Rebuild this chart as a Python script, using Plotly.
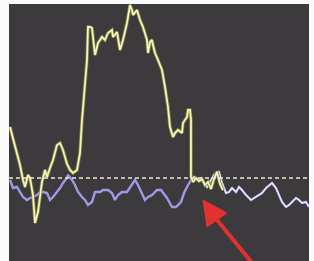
import plotly.graph_objects as go

# Signal A (yellow) - sample position and level
yellow_t = [1, 4, 8, 11, 14, 16, 19, 21, 24, 26, 29, 33, 36, 38, 41, 44, 48, 51, 54, 58, 61,
            64, 68, 71, 73, 76, 78, 79, 81, 83, 86, 89, 93, 96, 99, 103, 104, 108, 111, 114,
            118, 121, 123, 124, 128, 131, 134, 138, 139, 141, 143, 144, 146, 149, 153, 156,
            159, 161, 163, 164, 166, 169, 173, 174, 178, 179, 181, 182, 182, 184, 187, 190,
            193, 196, 199, 202, 205, 208, 211, 214]
yellow_v = [134, 123, 106, 96, 81, 74, 86, 83, 66, 38, 49, 79, 91, 84, 93, 101, 116, 118, 111,
            97, 91, 88, 91, 108, 141, 181, 201, 234, 234, 233, 206, 218, 224, 221, 228, 231,
            224, 229, 211, 221, 238, 256, 251, 246, 251, 241, 234, 221, 208, 219, 221, 216,
            208, 201, 191, 174, 154, 134, 128, 124, 128, 131, 128, 138, 144, 151, 151, 141,
            84, 79, 83, 80, 82, 76, 79, 72, 82, 89, 77, 71]

# Signal B (lavender)
blue_t = [1, 4, 8, 11, 14, 18, 21, 24, 28, 31, 34, 38, 41, 44, 48, 51, 54, 58, 59, 63, 66,
          69, 73, 76, 79, 83, 86, 91, 94, 99, 103, 106, 109, 113, 118, 121, 126, 129, 133,
          136, 139, 143, 145, 148, 152, 158, 163, 167, 172, 175, 178, 182, 185, 188, 192,
          195, 198, 202, 205, 208, 210, 213, 217, 220, 223, 227, 230, 233, 237, 242, 245,
          250, 253, 257, 260, 263, 267, 270, 273, 277, 280, 283, 287, 290, 293, 297, 300]
blue_v = [81, 73, 74, 69, 64, 61, 63, 64, 66, 69, 69, 68, 61, 64, 69, 73, 78, 83, 86, 81,
          76, 69, 64, 61, 56, 59, 69, 69, 71, 71, 68, 61, 66, 69, 69, 74, 81, 76, 68, 61,
          64, 66, 68, 71, 71, 63, 54, 54, 59, 68, 74, 81, 84, 81, 83, 78, 74, 81, 86, 89,
          89, 78, 68, 69, 73, 69, 74, 71, 66, 61, 63, 66, 68, 73, 76, 78, 73, 66, 59, 54,
          56, 59, 63, 61, 58, 59, 54]

overlap_start = 182  # from here on both signals coincide
baseline = 83
x_range = [0, 300]
y_range = [0, 257]

ov_t = [t for t in blue_t if t >= overlap_start]
ov_v = [v for t, v in zip(blue_t, blue_v) if t >= overlap_start]

fig = go.Figure()
fig.add_trace(go.Scatter(x=blue_t, y=blue_v, mode="lines",
                         line=dict(color="#a198e6", width=2.4), hoverinfo="skip"))
fig.add_trace(go.Scatter(x=ov_t, y=ov_v, mode="lines",
                         line=dict(color="#efeef8", width=1.3), hoverinfo="skip"))
fig.add_trace(go.Scatter(x=yellow_t, y=yellow_v, mode="lines",
                         line=dict(color="#7e7e4a", width=3.4), hoverinfo="skip"))
fig.add_trace(go.Scatter(x=yellow_t, y=yellow_v, mode="lines",
                         line=dict(color="#f4f4b4", width=1.8), hoverinfo="skip"))

# dashed reference level
fig.add_shape(type="line", xref="x", yref="y", x0=x_range[0], x1=x_range[1],
              y0=baseline, y1=baseline, line=dict(color="#f3e4da", width=1.6, dash="4px,3px"))

# red arrow
fig.add_shape(type="line", xref="x", yref="y", x0=208, y0=41, x1=244, y1=-3,
              line=dict(color="#e2312e", width=4))
fig.add_shape(type="path", xref="x", yref="y",
              path="M 194 61 L 198 34 L 218 48 Z",
              fillcolor="#e2312e", line=dict(color="#e2312e", width=1))

fig.update_layout(
    width=314, height=261,
    margin=dict(l=9, r=5, t=4, b=0),
    paper_bgcolor="#fbfafa",
    plot_bgcolor="#3c3a3c",
    showlegend=False,
    xaxis=dict(range=x_range, visible=False, fixedrange=True),
    yaxis=dict(range=y_range, visible=False, fixedrange=True),
)

fig.write_html("out.html", config={"displayModeBar": False},
               post_script="document.body.style.margin='0';document.body.style.overflow='hidden';")
